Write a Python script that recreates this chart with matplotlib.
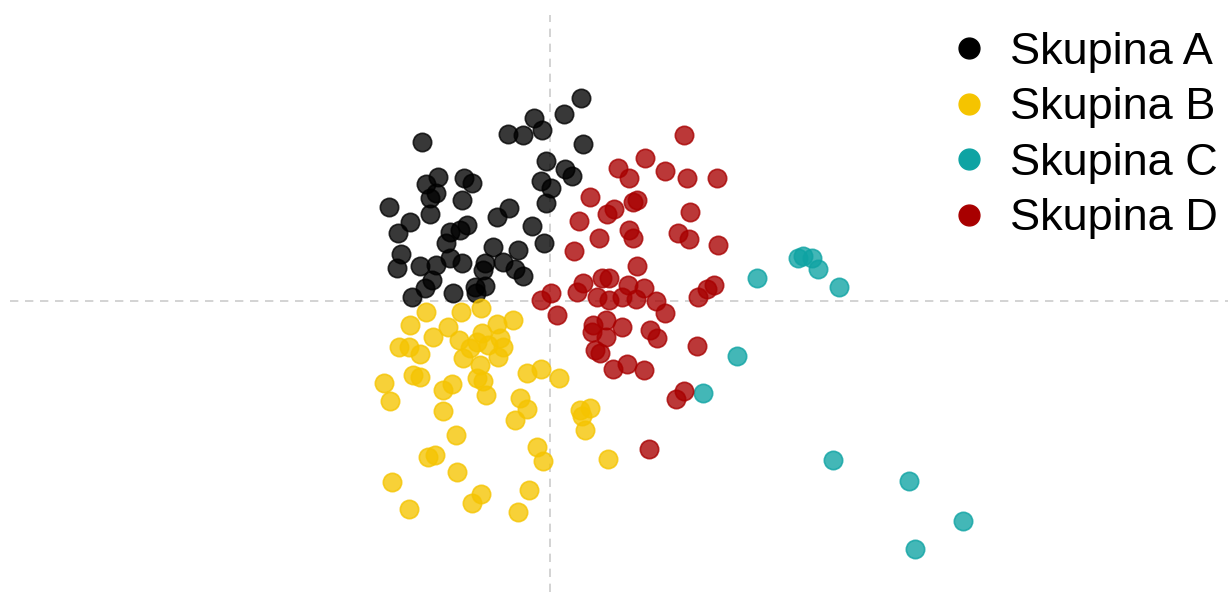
import matplotlib
matplotlib.use("Agg")
import matplotlib.pyplot as plt
from matplotlib.lines import Line2D

plt.rcParams['font.family'] = ['Liberation Sans', 'DejaVu Sans']

groups = ["Skupina A", "Skupina B", "Skupina C", "Skupina D"]
colors = ["#000000", "#F5C400", "#0EA3A3", "#A80000"]

a_x = [0.31, 0.14, -0.16, -0.42, -0.27, -0.08, -1.28, 0.33, -0.04, 0.15, 0.22, -1.12, -1.24, -0.86,
       -0.78, -0.09, 0.01, -1.14, -1.20, -0.88, -0.04, -1.61, -1.20, -0.41, -0.53, -1.40, -0.18,
       -1.52, -1.00, -0.83, -0.90, -1.04, -0.06, -1.49, -1.53, -1.30, -1.14, -1.00, -0.88, -0.57,
       -0.32, -0.65, -0.47, -0.35, -0.27, -0.67, -1.18, -1.25, -1.38, -0.97, -0.75, -0.65, -0.74]
a_y = [2.03, 1.87, 1.83, 1.67, 1.66, 1.71, 1.59, 1.57, 1.40, 1.32, 1.25, 1.24, 1.17, 1.23,
       1.18, 1.20, 1.13, 1.08, 1.03, 1.01, 0.98, 0.94, 0.87, 0.93, 0.84, 0.79, 0.75,
       0.68, 0.69, 0.76, 0.71, 0.58, 0.58, 0.47, 0.33, 0.35, 0.36, 0.43, 0.38, 0.54,
       0.51, 0.38, 0.39, 0.32, 0.25, 0.31, 0.21, 0.13, 0.04, 0.08, 0.14, 0.15, 0.08]

b_x = [-1.24, -0.89, -0.69, -1.40, -1.02, -1.17, -0.53, -0.37, -1.51, -1.41, -1.30, -0.91, -0.68,
       -0.73, -0.50, -0.47, -0.62, -0.87, -0.80, -0.52, -0.70, -1.37, -1.30, -0.73, -0.67, -1.66,
       -0.98, -1.07, -0.23, -0.09, 0.09, -1.60, -0.64, -0.30, -0.23, -1.07, -0.35, 0.30, 0.40,
       0.32, 0.35, -0.94, -0.13, -0.07, -1.22, -1.15, 0.58, -0.93, -1.58, -1.41, -0.78, -0.69,
       -0.21, -0.32]
b_y = [-0.11, -0.11, -0.07, -0.24, -0.26, -0.36, -0.23, -0.19, -0.46, -0.46, -0.53, -0.39, -0.32,
       -0.41, -0.37, -0.46, -0.44, -0.57, -0.47, -0.56, -0.64, -0.74, -0.76, -0.77, -0.80, -0.82,
       -0.83, -0.89, -0.72, -0.68, -0.77, -1.00, -0.94, -0.97, -1.08, -1.10, -1.19, -1.09, -1.07,
       -1.15, -1.29, -1.34, -1.46, -1.60, -1.56, -1.54, -1.58, -1.71, -1.81, -2.08, -2.02, -1.93,
       -1.89, -2.11]

c_x = [2.07, 2.48, 2.53, 2.62, 2.68, 2.89, 1.87, 1.53, 2.83, 3.59, 4.13, 3.65]
c_y = [0.23, 0.43, 0.45, 0.43, 0.32, 0.14, -0.55, -0.92, -1.59, -1.80, -2.20, -2.48]

d_x = [1.34, 0.95, 0.68, 0.79, 1.15, 1.37, 1.67, 0.40, 0.87, 0.83, 0.64, 0.57, 1.40, 0.29,
       0.79, 0.83, 0.49, 1.28, 1.39, 1.68, 0.24, 0.87, 0.33, 0.27, 0.52, 0.59, 0.78, 0.94,
       1.64, 1.57, 1.48, 0.01, -0.09, 0.47, 0.59, 0.72, 0.86, 1.06, 1.15, 0.07, 0.43, 0.56,
       0.72, 0.42, 0.56, 1.00, 1.07, 0.45, 0.50, 0.63, 0.77, 0.94, 1.47, 1.34, 1.26, 0.99]
d_y = [1.66, 1.43, 1.33, 1.23, 1.30, 1.23, 1.23, 1.04, 1.01, 0.99, 0.92, 0.87, 0.89, 0.80,
       0.71, 0.63, 0.63, 0.68, 0.62, 0.56, 0.50, 0.35, 0.18, 0.09, 0.23, 0.23, 0.16, 0.13,
       0.16, 0.12, 0.04, 0.08, 0.01, 0.04, 0.01, 0.04, 0.02, 0.00, -0.12, -0.14, -0.24, -0.19,
       -0.26, -0.31, -0.36, -0.29, -0.37, -0.49, -0.52, -0.68, -0.63, -0.69, -0.45, -0.90, -0.98,
       -1.48]

xs = [a_x, b_x, c_x, d_x]
ys = [a_y, b_y, c_y, d_y]

fig = plt.figure(figsize=(12.28, 5.92), dpi=100)
ax = fig.add_axes([0, 0, 1, 1])
ax.set_xlim(-5.50, 6.78)
ax.set_ylim(-2.91, 3.01)
ax.axis('off')

ax.vlines(0, -2.91, 2.86, colors='#cccccc', linestyles=(0, (5, 4)), linewidth=1.2, zorder=0)
ax.hlines(0, -5.40, 6.78, colors='#cccccc', linestyles=(0, (5, 4)), linewidth=1.2, zorder=0)

for x, y, c in zip(xs, ys, colors):
    ax.scatter(x, y, s=175, color=c, alpha=0.78, edgecolors=c, linewidths=1.2, zorder=2)

handles = [Line2D([], [], marker='o', linestyle='none', markersize=15,
                  markerfacecolor=c, markeredgecolor=c) for c in colors]
fig.legend(handles, groups, loc='upper left', bbox_to_anchor=(942 / 1228, 1 - 32 / 592),
           frameon=False, fontsize=32.5, labelspacing=0.32, handletextpad=0.3,
           handlelength=1.2, borderaxespad=0, borderpad=0)

fig.savefig("out.png", dpi=100)
